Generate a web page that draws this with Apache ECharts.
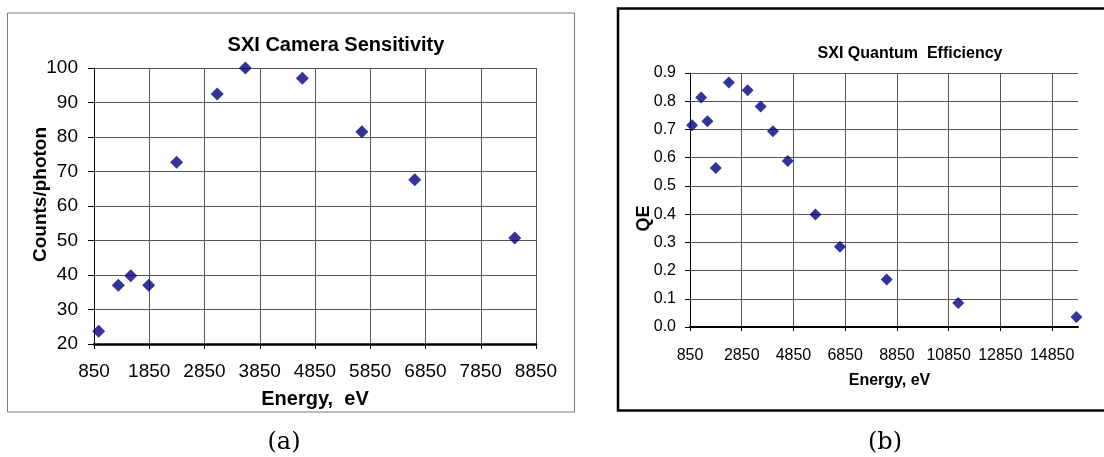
<!DOCTYPE html>
<html>
<head>
<meta charset="utf-8">
<script src="https://cdn.jsdelivr.net/npm/echarts@6.0.0/dist/echarts.min.js"></script>
<style>
  html, body { margin: 0; padding: 0; background: #fff; }
  #chart { width: 1104px; height: 457px; }
</style>
</head>
<body>
<div id="chart"></div>
<script>
// (a) camera sensitivity
const energyA = [935, 1290, 1515, 1840, 2345, 3080, 3590, 4620, 5698, 6655, 8465];
const countsA = [23.7, 37.0, 39.8, 37.0, 72.7, 92.5, 100, 97.0, 81.5, 67.6, 50.7];
const xTicksA = [850, 1850, 2850, 3850, 4850, 5850, 6850, 7850, 8850];
const yTicksA = [20, 30, 40, 50, 60, 70, 80, 90, 100];

// (b) quantum efficiency
const energyB = [933, 1282, 1525, 1846, 2353, 3077, 3583, 4056, 4628, 5700, 6646, 8455, 11220, 15790];
const qeB = [0.715, 0.813, 0.729, 0.563, 0.866, 0.839, 0.781, 0.694, 0.588, 0.399, 0.284, 0.168, 0.085, 0.035];
const xTicksB = [850, 2850, 4850, 6850, 8850, 10850, 12850, 14850];
const xMaxB = 15850;
const yTicksB = [0, 0.1, 0.2, 0.3, 0.4, 0.5, 0.6, 0.7, 0.8, 0.9];

const FONT = "'Liberation Sans', Arial, sans-serif";
const GRID_COLOR = '#555';
const MARK_COLOR = '#000080';

const pairs = (xs, ys) => xs.map((x, i) => [x, ys[i]]);

const chart = echarts.init(document.getElementById('chart'));

const option = {
  backgroundColor: '#fff',
  animation: false,
  title: [
    {
      text: 'SXI Camera Sensitivity',
      left: 331,
      top: 30,
      textAlign: 'center',
      textStyle: { fontFamily: FONT, fontSize: 20, fontWeight: 'bold', color: '#000' }
    },
    {
      text: 'SXI Quantum  Efficiency',
      left: 905,
      top: 41,
      textAlign: 'center',
      textStyle: { fontFamily: FONT, fontSize: 16, fontWeight: 'bold', color: '#000' }
    }
  ],
  grid: [
    { left: 94, top: 68, width: 442, height: 276 },
    { left: 690, top: 73, width: 388, height: 254 }
  ],
  xAxis: [
    {
      type: 'value',
      gridIndex: 0,
      min: xTicksA[0],
      max: xTicksA[xTicksA.length - 1],
      interval: xTicksA[1] - xTicksA[0],
      name: 'Energy,  eV',
      nameLocation: 'middle',
      nameGap: 45,
      nameMoveOverlap: false,
      nameTextStyle: { fontFamily: FONT, fontSize: 20, fontWeight: 'bold', color: '#000' },
      axisLine: { show: true, onZero: false, lineStyle: { color: '#000', width: 2.5 } },
      axisTick: { show: true, length: 5, lineStyle: { color: '#000' } },
      axisLabel: { margin: 18, fontFamily: FONT, fontSize: 19, color: '#000', formatter: v => String(v) },
      splitLine: { show: true, lineStyle: { color: GRID_COLOR, width: 1 } }
    },
    {
      type: 'value',
      gridIndex: 1,
      min: xTicksB[0],
      max: xMaxB,
      interval: xTicksB[1] - xTicksB[0],
      name: 'Energy, eV',
      nameLocation: 'middle',
      nameGap: 46,
      nameMoveOverlap: false,
      nameTextStyle: { fontFamily: FONT, fontSize: 16, fontWeight: 'bold', color: '#000', padding: [0, 0, 0, 11] },
      axisLine: { show: true, onZero: false, lineStyle: { color: '#000', width: 2.2 } },
      axisTick: { show: true, length: 4, customValues: xTicksB, lineStyle: { color: '#000' } },
      axisLabel: { margin: 21, fontFamily: FONT, fontSize: 16, color: '#000', customValues: xTicksB, formatter: v => String(v) },
      splitLine: { show: true, lineStyle: { color: GRID_COLOR, width: 1 } }
    }
  ],
  yAxis: [
    {
      type: 'value',
      gridIndex: 0,
      min: yTicksA[0],
      max: yTicksA[yTicksA.length - 1],
      interval: yTicksA[1] - yTicksA[0],
      name: 'Counts/photon',
      nameLocation: 'middle',
      nameGap: 44,
      nameMoveOverlap: false,
      nameTextStyle: { fontFamily: FONT, fontSize: 19, fontWeight: 'bold', color: '#000', padding: [0, 0, 0, 23] },
      axisLine: { show: true, onZero: false, lineStyle: { color: '#000', width: 1 } },
      axisTick: { show: true, length: 6, lineStyle: { color: '#000' } },
      axisLabel: { margin: 16, fontFamily: FONT, fontSize: 19, color: '#000' },
      splitLine: { show: true, lineStyle: { color: GRID_COLOR, width: 1 } }
    },
    {
      type: 'value',
      gridIndex: 1,
      min: yTicksB[0],
      max: yTicksB[yTicksB.length - 1],
      interval: 0.1,
      name: 'QE',
      nameLocation: 'middle',
      nameGap: 37,
      nameMoveOverlap: false,
      nameTextStyle: { fontFamily: FONT, fontSize: 18, fontWeight: 'bold', color: '#000', padding: [0, 37, 0, 0] },
      axisLine: { show: true, onZero: false, lineStyle: { color: '#000', width: 1 } },
      axisTick: { show: true, length: 5, lineStyle: { color: '#000' } },
      axisLabel: { margin: 14, fontFamily: FONT, fontSize: 16, color: '#000', formatter: v => v.toFixed(1) },
      splitLine: { show: true, lineStyle: { color: GRID_COLOR, width: 1 } }
    }
  ],
  series: [
    {
      type: 'scatter',
      xAxisIndex: 0,
      yAxisIndex: 0,
      symbol: 'diamond',
      symbolSize: 13,
      itemStyle: { color: MARK_COLOR },
      data: pairs(energyA, countsA)
    },
    {
      type: 'scatter',
      xAxisIndex: 1,
      yAxisIndex: 1,
      symbol: 'diamond',
      symbolSize: 12,
      itemStyle: { color: MARK_COLOR },
      data: pairs(energyB, qeB)
    }
  ],
  graphic: [
    {
      type: 'rect',
      z: -10,
      shape: { x: 7.5, y: 13, width: 567, height: 399 },
      style: { fill: 'none', stroke: '#7a7a7a', lineWidth: 1 }
    },
    {
      type: 'rect',
      z: -10,
      shape: { x: 618, y: 8.5, width: 600, height: 402 },
      style: { fill: 'none', stroke: '#000', lineWidth: 2.5 }
    },
    {
      type: 'text',
      style: {
        text: '(a)', x: 284, y: 443,
        font: "24px 'DejaVu Serif', serif",
        textAlign: 'center', textVerticalAlign: 'middle', fill: '#000'
      }
    },
    {
      type: 'text',
      style: {
        text: '(b)', x: 885, y: 443,
        font: "24px 'DejaVu Serif', serif",
        textAlign: 'center', textVerticalAlign: 'middle', fill: '#000'
      }
    }
  ]
};

chart.setOption(option);
</script>
</body>
</html>
